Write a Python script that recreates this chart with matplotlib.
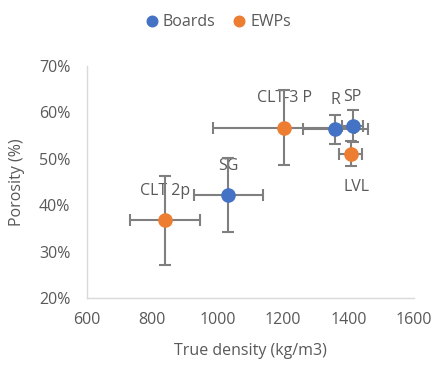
import matplotlib
matplotlib.use("Agg")
import matplotlib.pyplot as plt
from matplotlib.ticker import FuncFormatter

plt.rcParams['font.family'] = ['Open Sans', 'DejaVu Sans']

# Boards
boards_labels = ["SG", "R", "SP"]
boards_density = [1032, 1359, 1412]
boards_density_err = [105, 100, 33]
boards_porosity = [0.421, 0.563, 0.570]
boards_porosity_err = [0.080, 0.032, 0.034]

# EWPs
ewps_labels = ["CLT 2p", "CLT-3 P", "LVL"]
ewps_density = [838, 1203, 1406]
ewps_density_err = [108, 217, 36]
ewps_porosity = [0.367, 0.567, 0.511]
ewps_porosity_err = [0.095, 0.081, 0.027]

BLUE = "#4472C4"
ORANGE = "#ED7D31"
GRAY = "#595959"
ERR = "#7F7F7F"
FS = 11.5

fig = plt.figure(figsize=(4.35, 3.66), dpi=100)
ax = fig.add_axes([0.2, 0.186, 0.752, 0.634])

def draw(xs, xe, ys, ye, color, label):
    ax.errorbar(xs, ys, xerr=xe, yerr=ye, fmt='none', ecolor=ERR,
                elinewidth=1.5, capsize=4, capthick=1.5, zorder=2)
    ax.plot(xs, ys, 'o', color=color, markersize=9.5, zorder=3,
            label=label, linestyle='none')

draw(boards_density, boards_density_err, boards_porosity, boards_porosity_err, BLUE, "Boards")
draw(ewps_density, ewps_density_err, ewps_porosity, ewps_porosity_err, ORANGE, "EWPs")

# data labels
for lab, x, y in zip(boards_labels, boards_density, boards_porosity):
    ax.annotate(lab, (x, y), xytext=(0, 21), textcoords='offset points',
                ha='center', va='center', fontsize=FS, color=GRAY, zorder=1)
for lab, x, y in zip(ewps_labels, ewps_density, ewps_porosity):
    off = (4, -24) if lab == "LVL" else (0, 21)
    ax.annotate(lab, (x, y), xytext=off, textcoords='offset points',
                ha='center', va='center', fontsize=FS, color=GRAY, zorder=1)

ax.set_xlim(600, 1600)
ax.set_ylim(0.2, 0.7)
ax.set_xticks([600, 800, 1000, 1200, 1400, 1600])
ax.set_yticks([0.2, 0.3, 0.4, 0.5, 0.6, 0.7])
ax.yaxis.set_major_formatter(FuncFormatter(lambda v, p: f"{v*100:.0f}%"))
ax.tick_params(axis='both', length=0, labelsize=FS, labelcolor=GRAY)
ax.tick_params(axis='y', pad=12)
ax.tick_params(axis='x', pad=10)

for s in ['top', 'right']:
    ax.spines[s].set_visible(False)
for s in ['left', 'bottom']:
    ax.spines[s].set_color("#D9D9D9")
    ax.spines[s].set_linewidth(1.0)

ax.set_xlabel("True density (kg/m3)", fontsize=FS, color=GRAY, labelpad=11)
ax.set_ylabel("Porosity (%)", fontsize=FS, color=GRAY, labelpad=10)

fig.legend(loc='upper center', bbox_to_anchor=(0.5, 1.0), ncol=2, frameon=False,
           fontsize=FS, labelcolor=GRAY, handletextpad=0.2, columnspacing=1.0,
           markerscale=0.8, handlelength=1.0)

fig.savefig("out.png", dpi=100)
